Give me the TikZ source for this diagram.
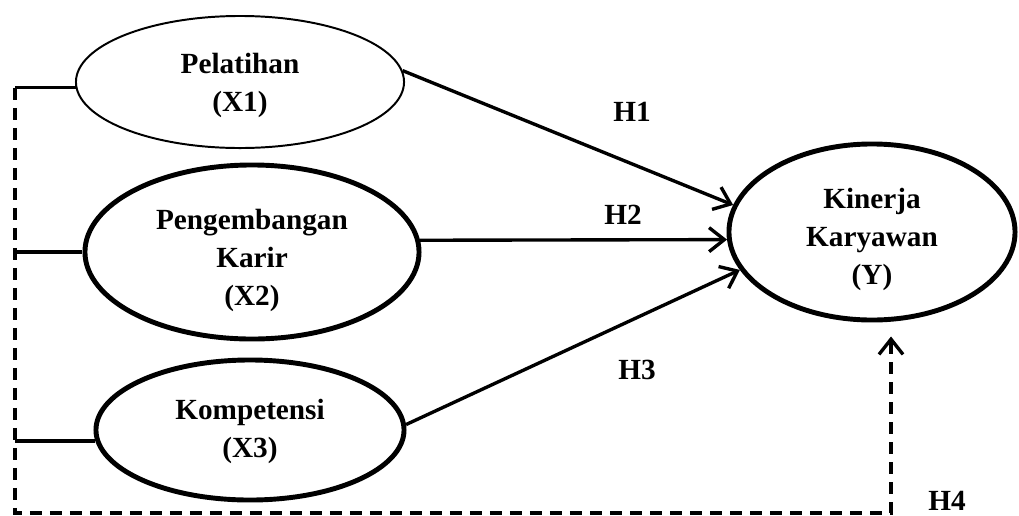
\documentclass[tikz,border=0pt]{standalone}
\usepackage{fontspec}
\setmainfont{Liberation Serif}
\usetikzlibrary{shapes.geometric, arrows.meta, positioning, calc}

\newcommand{\padtop}[1]{\rule{0pt}{#1}}

\begin{document}
\begin{tikzpicture}[
    x=0.025cm, y=-0.025cm,
    latent/.style={ellipse, draw=black, line width=3.5pt, align=center, inner sep=0pt, font=\fontsize{20.8}{27}\selectfont\bfseries},
    thinlatent/.style={latent, line width=1.4pt},
    arrow/.style={-{Straight Barb[length=0.38cm, width=0.6cm]}, line width=2.4pt},
    link/.style={line width=2.4pt},
    dashlink/.style={line width=2.4pt, dash pattern=on 0.3cm off 0.2cm},
    hyp/.style={font=\fontsize{20.8}{25}\selectfont\bfseries}
]

\useasboundingbox (0,0) rectangle (1019,515);

\node[thinlatent, minimum width=8.2cm, minimum height=3.3cm] (x1) at (240,82) {\padtop{20pt}Pelatihan\\(X1)};
\node[latent, minimum width=8.35cm, minimum height=4.35cm] (x2) at (252,252) {\padtop{27pt}Pengembangan\\Karir\\(X2)};
\node[latent, minimum width=7.7cm, minimum height=3.5cm] (x3) at (250,430) {\padtop{17pt}Kompetensi\\(X3)};
\node[latent, minimum width=7.15cm, minimum height=4.4cm] (y) at (872,232) {\padtop{25pt}Kinerja\\Karyawan\\(Y)};

\coordinate (bus) at (15,0);
\coordinate (corner) at (891,513);

\draw[arrow] (x1.4) -- (y.169);
\draw[arrow] (x2.4) -- (y.183);
\draw[arrow] (x3.2) -- (y.196);

\draw[link] (x1.182) -- (x1.182 -| bus);
\draw[link] (x2.west) -- (x2.west -| bus);
\draw[link] (x3.184) -- (x3.184 -| bus);
\draw[dashlink, -{Straight Barb[length=0.38cm, width=0.6cm]}] (x1.182 -| bus) |- (corner) -- ($(corner |- y.south)+(0,14)$);

\node[hyp] (h1) at (632,112) {H1};
\node[hyp] (h2) at (623,215) {H2};
\node[hyp] (h3) at (637,370) {H3};
\node[hyp] (h4) at (947,501) {H4};

\end{tikzpicture}
\end{document}
